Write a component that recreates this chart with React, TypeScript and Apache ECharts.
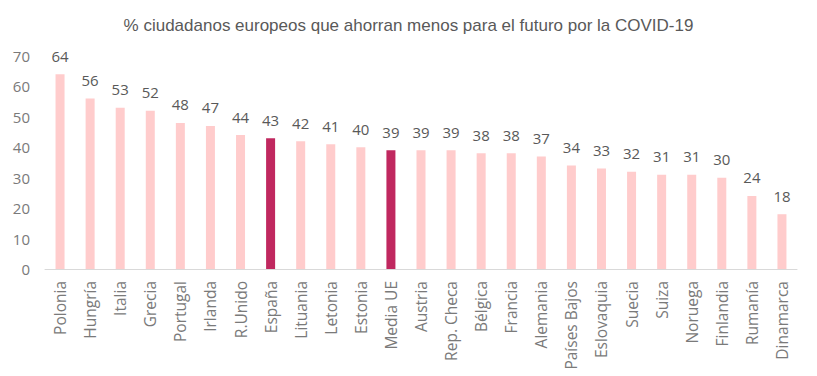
import React, { useEffect, useRef } from "react";
import * as echarts from "echarts";

const categories = ["Polonia", "Hungría", "Italia", "Grecia", "Portugal", "Irlanda", "R.Unido", "España", "Lituania", "Letonia", "Estonia", "Media UE", "Austria", "Rep. Checa", "Bélgica", "Francia", "Alemania", "Países Bajos", "Eslovaquia", "Suecia", "Suiza", "Noruega", "Finlandia", "Rumanía", "Dinamarca"];
const values = [64, 56, 53, 52, 48, 47, 44, 43, 42, 41, 40, 39, 39, 39, 38, 38, 37, 34, 33, 32, 31, 31, 30, 24, 18];
const highlighted = ["España", "Media UE"];
const titleText = "% ciudadanos europeos que ahorran menos para el futuro por la COVID-19";

export default function App() {
  const ref = useRef<HTMLDivElement>(null);
  useEffect(() => {
    document.body.style.margin = "0";
    if (!ref.current) return;
    const chart = echarts.init(ref.current, undefined, { renderer: "svg" });
    chart.setOption({
      animation: false,
      title: {
        text: titleText,
        left: "center",
        top: 12,
        textStyle: { fontFamily: "Liberation Sans, Arial, sans-serif", fontSize: 17, fontWeight: "normal", color: "#595959" },
      },
      grid: { left: 45, right: 20, top: 56, bottom: 107, containLabel: false },
      xAxis: {
        type: "category",
        data: categories,
        axisLine: { lineStyle: { color: "#d9d9d9", width: 1 } },
        axisTick: { show: false },
        axisLabel: { rotate: 90, interval: 0, color: "#7a7a7a", fontFamily: "Open Sans, sans-serif", fontSize: 15.5, margin: 12 },
      },
      yAxis: {
        type: "value",
        min: 0,
        max: 70,
        interval: 10,
        axisLine: { show: false },
        axisTick: { show: false },
        splitLine: { show: false },
        axisLabel: { color: "#7a7a7a", fontFamily: "Open Sans, sans-serif", fontSize: 15, margin: 15 },
      },
      series: [
        {
          type: "bar",
          barWidth: 9,
          data: values.map((v, i) => ({
            value: v,
            itemStyle: { color: highlighted.includes(categories[i]) ? "#C0285F" : "#FFCCCC" },
          })),
          label: { show: true, position: "top", distance: 11, color: "#595959", fontFamily: "Open Sans, sans-serif", fontSize: 15 },
        },
      ],
    });
    return () => chart.dispose();
  }, []);
  return <div ref={ref} style={{ width: 817, height: 376 }} />;
}
